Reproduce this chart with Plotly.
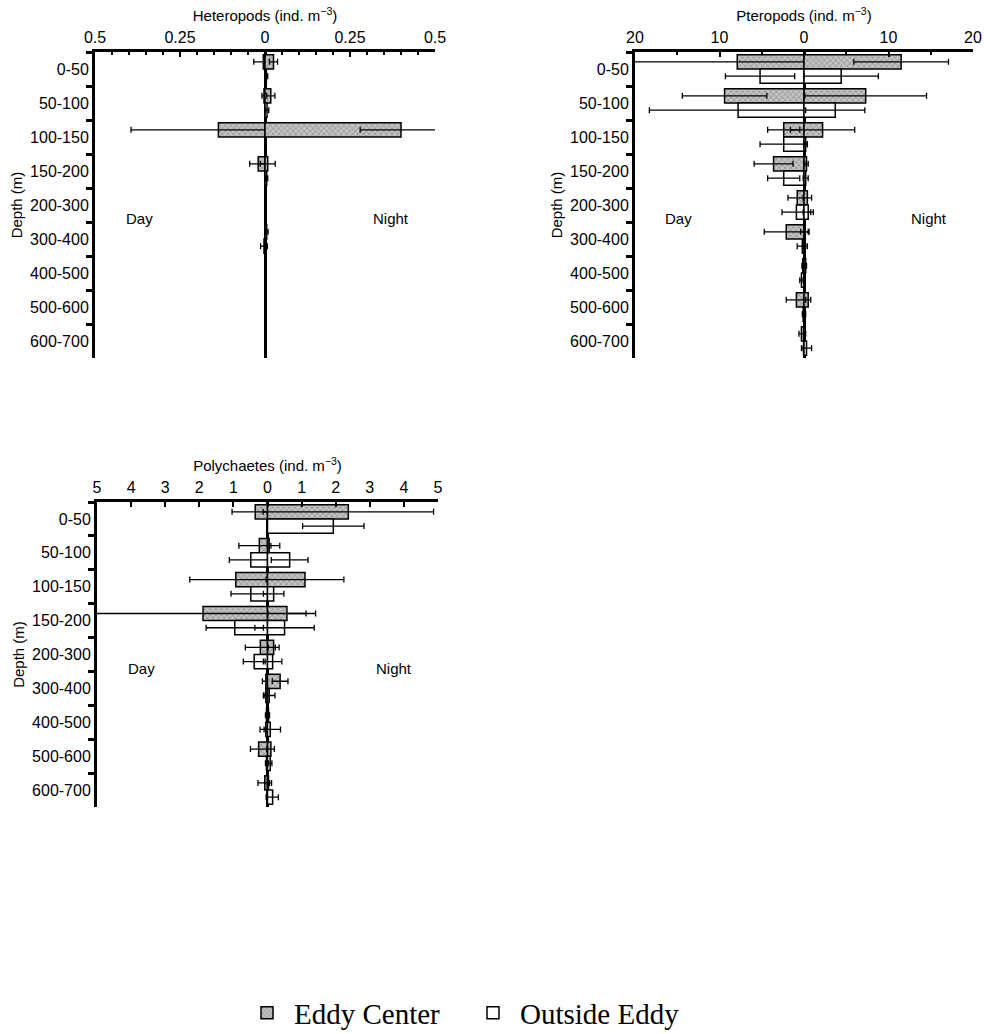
import plotly.graph_objects as go

depth_bins = ["0-50", "50-100", "100-150", "150-200", "200-300",
              "300-400", "400-500", "500-600", "600-700"]

# Heteropods (ind. m-3)
het_ec_day = [0.005, 0.003, 0.137, 0.020, 0.0, 0.0, 0.0, 0.0, 0.0]
het_ec_day_sd = [0.028, 0.006, 0.257, 0.025, 0.0, 0.0, 0.0, 0.0, 0.0]
het_ec_night = [0.025, 0.017, 0.400, 0.008, 0.002, 0.005, 0.002, 0.002, 0.002]
het_ec_night_sd = [0.012, 0.012, 0.120, 0.022, 0.0, 0.004, 0.0, 0.0, 0.0]
het_oe_day = [0.0, 0.0, 0.0, 0.0, 0.0, 0.003, 0.0, 0.0, 0.0]
het_oe_day_sd = [0.0, 0.0, 0.0, 0.0, 0.0, 0.010, 0.0, 0.0, 0.0]
het_oe_night = [0.004, 0.006, 0.0, 0.005, 0.002, 0.0, 0.0, 0.0, 0.0]
het_oe_night_sd = [0.004, 0.005, 0.0, 0.003, 0.0, 0.0, 0.0, 0.0, 0.0]

# Pteropods (ind. m-3)
pte_ec_day = [7.9, 9.4, 2.4, 3.6, 0.8, 2.1, 0.15, 0.9, 0.3]
pte_ec_day_sd = [13.0, 5.0, 1.9, 2.3, 1.1, 2.6, 0.1, 1.2, 0.3]
pte_ec_night = [11.5, 7.3, 2.2, 0.3, 0.4, 0.1, 0.2, 0.5, 0.1]
pte_ec_night_sd = [5.6, 7.2, 3.8, 0.2, 0.5, 0.5, 0.1, 0.3, 0.1]
pte_oe_day = [5.2, 7.8, 2.4, 2.4, 0.9, 0.2, 0.3, 0.1, 0.05]
pte_oe_day_sd = [4.1, 10.5, 2.8, 1.9, 1.7, 0.6, 0.2, 0.1, 0.05]
pte_oe_night = [4.4, 3.7, 0.2, 0.2, 0.5, 0.1, 0.05, 0.1, 0.3]
pte_oe_night_sd = [4.4, 3.5, 0.2, 0.3, 0.6, 0.1, 0.05, 0.1, 0.6]

# Polychaetes (ind. m-3)
pol_ec_day = [0.36, 0.24, 0.93, 1.89, 0.21, 0.05, 0.03, 0.26, 0.08]
pol_ec_day_sd = [0.68, 0.60, 1.35, 3.3, 0.44, 0.10, 0.03, 0.24, 0.20]
pol_ec_night = [2.37, 0.05, 1.10, 0.57, 0.18, 0.37, 0.03, 0.10, 0.03]
pol_ec_night_sd = [2.50, 0.05, 1.14, 0.56, 0.16, 0.23, 0.03, 0.10, 0.03]
pol_oe_day = [0.0, 0.49, 0.49, 0.96, 0.39, 0.05, 0.05, 0.03, 0.02]
pol_oe_day_sd = [0.0, 0.63, 0.58, 0.84, 0.32, 0.05, 0.05, 0.03, 0.02]
pol_oe_night = [1.93, 0.65, 0.18, 0.50, 0.15, 0.05, 0.08, 0.08, 0.15]
pol_oe_night_sd = [0.90, 0.54, 0.30, 0.87, 0.27, 0.17, 0.30, 0.05, 0.17]

series_names = ["Eddy Center", "Outside Eddy"]

panels = [
    dict(title="Heteropods (ind. m<sup>−3</sup>)", rng=0.5,
         tickvals=[-0.5, -0.25, 0, 0.25, 0.5],
         ticktext=["0.5", "0.25", "0", "0.25", "0.5"], minor=0.05,
         ec=(het_ec_day, het_ec_day_sd, het_ec_night, het_ec_night_sd),
         oe=(het_oe_day, het_oe_day_sd, het_oe_night, het_oe_night_sd),
         xdom=(95, 435), ydom=(52, 358)),
    dict(title="Pteropods (ind. m<sup>−3</sup>)", rng=20,
         tickvals=[-20, -10, 0, 10, 20],
         ticktext=["20", "10", "0", "10", "20"], minor=5,
         ec=(pte_ec_day, pte_ec_day_sd, pte_ec_night, pte_ec_night_sd),
         oe=(pte_oe_day, pte_oe_day_sd, pte_oe_night, pte_oe_night_sd),
         xdom=(635, 973), ydom=(52, 358)),
    dict(title="Polychaetes (ind. m<sup>−3</sup>)", rng=5,
         tickvals=[-5, -4, -3, -2, -1, 0, 1, 2, 3, 4, 5],
         ticktext=["5", "4", "3", "2", "1", "0", "1", "2", "3", "4", "5"], minor=None,
         ec=(pol_ec_day, pol_ec_day_sd, pol_ec_night, pol_ec_night_sd),
         oe=(pol_oe_day, pol_oe_day_sd, pol_oe_night, pol_oe_night_sd),
         xdom=(97, 438), ydom=(502, 807)),
]

W, H = 984, 1034
FONT = "Liberation Sans, Arial, sans-serif"

ec_marker = dict(color="#b4b4b4", line=dict(color="black", width=1.5),
                 pattern=dict(shape="x", fgcolor="#555555", bgcolor="#c2c2c2",
                              size=4, solidity=0.3))
oe_marker = dict(color="white", line=dict(color="black", width=1.5))

fig = go.Figure()
annotations = []

for i, p in enumerate(panels, start=1):
    xa = "x" if i == 1 else f"x{i}"
    ya = "y" if i == 1 else f"y{i}"
    for key, name, marker in (("ec", series_names[0], ec_marker),
                              ("oe", series_names[1], oe_marker)):
        day, day_sd, night, night_sd = p[key]
        fig.add_trace(go.Bar(
            y=depth_bins, x=[-v for v in day], orientation="h",
            name=name, legendgroup=key, showlegend=(i == 1),
            offsetgroup=key, marker=marker,
            error_x=dict(type="data", array=day_sd, symmetric=True,
                         color="black", thickness=1.3, width=3),
            xaxis=xa, yaxis=ya))
        fig.add_trace(go.Bar(
            y=depth_bins, x=night, orientation="h",
            name=name, legendgroup=key, showlegend=False,
            offsetgroup=key, marker=marker,
            error_x=dict(type="data", array=night_sd, symmetric=True,
                         color="black", thickness=1.3, width=3),
            xaxis=xa, yaxis=ya))

    x0, x1 = p["xdom"]
    y0, y1 = p["ydom"]
    xaxis = dict(domain=[x0 / W, x1 / W], anchor=ya, side="top",
                 range=[-p["rng"], p["rng"]], automargin=False,
                 tickmode="array", tickvals=p["tickvals"], ticktext=p["ticktext"],
                 ticks="inside", ticklen=5, tickwidth=2, tickcolor="black",
                 showline=True, linewidth=3, linecolor="black",
                 zeroline=True, zerolinewidth=3, zerolinecolor="black",
                 showgrid=False, tickfont=dict(size=16, color="black", family=FONT),
                 title=dict(text=p["title"], font=dict(size=15, color="black", family=FONT),
                            standoff=4),
                 fixedrange=True)
    if p["minor"]:
        xaxis["minor"] = dict(dtick=p["minor"], ticks="inside", ticklen=3,
                              tickwidth=2, tickcolor="black", showgrid=False)
    yaxis = dict(domain=[1 - y1 / H, 1 - y0 / H], anchor=xa, automargin=False,
                 type="category", categoryorder="array", categoryarray=depth_bins,
                 range=[len(depth_bins) - 0.5, -0.5],
                 showline=True, linewidth=3, linecolor="black",
                 ticks="outside", tickson="boundaries", ticklen=6, tickwidth=3,
                 tickcolor="black", showgrid=False, zeroline=False,
                 tickfont=dict(size=16, color="black", family=FONT),
                 title=dict(text="Depth (m)", font=dict(size=15, color="black", family=FONT),
                            standoff=4),
                 fixedrange=True)
    fig.update_layout({f"xaxis{'' if i == 1 else i}": xaxis,
                       f"yaxis{'' if i == 1 else i}": yaxis})
    annotations.append(dict(text="Day", x=-0.74 * p["rng"], y=4.4, xref=xa, yref=ya,
                            showarrow=False, font=dict(size=15, color="black", family=FONT)))
    annotations.append(dict(text="Night", x=0.74 * p["rng"], y=4.4, xref=xa, yref=ya,
                            showarrow=False, font=dict(size=15, color="black", family=FONT)))

fig.update_layout(
    width=W, height=H,
    margin=dict(l=0, r=0, t=0, b=0, autoexpand=False),
    paper_bgcolor="white", plot_bgcolor="white",
    barmode="group", bargap=0.16, bargroupgap=0.0,
    annotations=annotations,
    legend=dict(orientation="h", x=240 / W, xanchor="left", y=1 - 1013 / H, yanchor="middle",
                font=dict(family="Liberation Serif, Times New Roman, serif", size=29, color="black"),
                itemwidth=44, entrywidth=167, entrywidthmode="pixels",
                bgcolor="rgba(0,0,0,0)"),
    font=dict(family=FONT, color="black"),
)

post = "document.body.style.margin='0';document.body.style.padding='0';"

fig.write_html("out.html", config={"displayModeBar": False}, post_script=post)
